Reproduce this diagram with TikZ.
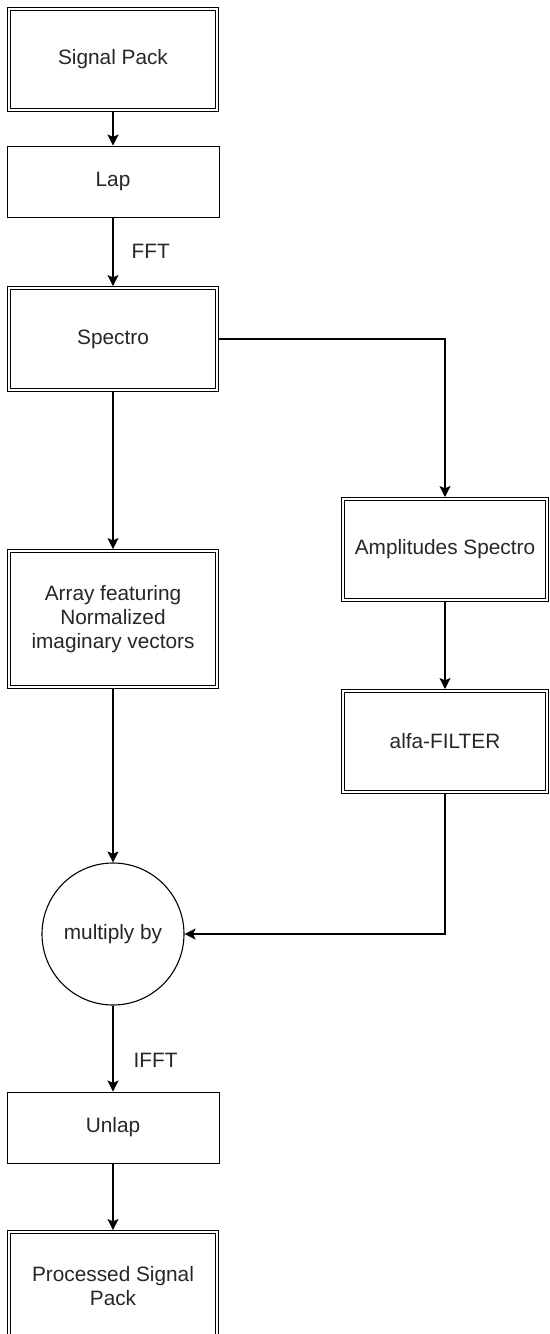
\documentclass[tikz,border=0pt]{standalone}
\usepackage{fontspec}
\setmainfont{Liberation Sans}
\usetikzlibrary{arrows.meta}
\begin{document}
\begin{tikzpicture}[x=0.5pt,y=-0.5pt,
  every node/.style={font=\fontsize{10.4}{12}\selectfont, text=black!85, align=center, inner sep=0pt},
  plainbox/.style={draw, line width=0.5pt, minimum width=106pt, minimum height=35.5pt},
  dblbox/.style={draw, line width=0.6pt, double, double distance=1.2pt, outer sep=1pt},
  roundnode/.style={draw, line width=0.55pt, circle, minimum size=71pt},
  conn/.style={line width=0.6pt, -{Stealth[length=5.5pt,width=5.5pt,inset=1.2pt]}},
  lbl/.style={anchor=west}]
\useasboundingbox (0,0) rectangle (550,1334);
\node[dblbox, minimum width=104pt, minimum height=50.5pt] (sig) at (113,59.5) {Signal Pack};
\node[plainbox] (lap) at (113,181.5) {Lap};
\node[dblbox, minimum width=104pt, minimum height=51pt] (spec) at (113,339) {Spectro};
\node[dblbox, minimum width=104pt, minimum height=68pt] (arr) at (113,619) {Array featuring\\Normalized\\imaginary vectors};
\node[dblbox, minimum width=102pt, minimum height=50.5pt] (amp) at (445,549.5) {Amplitudes Spectro};
\node[dblbox, minimum width=102pt, minimum height=50.5pt] (alfa) at (445,741.5) {alfa-FILTER};
\node[roundnode] (circ) at (113,934) {multiply by};
\node[plainbox] (unlap) at (113,1127.5) {Unlap};
\node[dblbox, minimum width=104pt, minimum height=54pt] (proc) at (113,1286) {Processed Signal\\Pack};
\draw[conn] (sig) -- (lap);
\draw[conn] (lap) -- node[lbl, xshift=9pt] (fft) {FFT} (spec);
\draw[conn] (spec.east) -| (amp.north);
\draw[conn] (spec) -- (arr);
\draw[conn] (amp) -- (alfa);
\draw[conn] (arr) -- (circ);
\draw[conn] (alfa.south) |- (circ.east);
\draw[conn] (circ) -- node[lbl, xshift=10pt, yshift=-6pt] (ifft) {IFFT} (unlap);
\draw[conn] (unlap) -- (proc);
\end{tikzpicture}
\end{document}
